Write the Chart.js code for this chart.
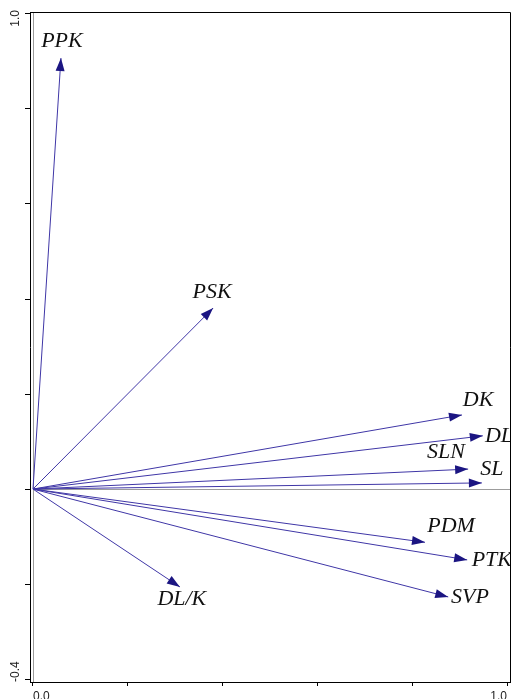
<!DOCTYPE html>
<html>
<head>
<meta charset="utf-8">
<script src="https://cdn.jsdelivr.net/npm/chart.js@4.4.0/dist/chart.umd.min.js"></script>
<style>
  html, body { margin: 0; padding: 0; background: #fff; }
  #wrap { width: 513px; height: 699px; }
</style>
</head>
<body>
<div id="wrap"><canvas id="biplot" width="513" height="699"></canvas></div>
<script>
// Variables and their loading vectors
const variables = ['PPK', 'PSK', 'DK', 'DL', 'SLN', 'SL', 'PDM', 'PTK', 'SVP', 'DL/K'];
const loadX = [0.059, 0.380, 0.905, 0.949, 0.918, 0.947, 0.827, 0.916, 0.876, 0.310];
const loadY = [0.907, 0.381, 0.156, 0.112, 0.042, 0.013, -0.112, -0.149, -0.227, -0.206];

// where each name is written (data units)
const labelX = [0.061, 0.378, 0.939, 0.983, 0.871, 0.968, 0.882, 0.968, 0.922, 0.314];
const labelY = [0.943, 0.415, 0.187, 0.112, 0.078, 0.042, -0.078, -0.149, -0.227, -0.232];

// tick labels that are printed
const xTickLabels = [0.0, 1.0];
const yTickLabels = [-0.4, 1.0];

const ARROW = '#1b1582';
const SHAFT = '#3f36a6';

// Build one dataset per arrow, from the origin to the loading
const datasets = variables.map((name, i) => ({
    label: name,
    data: [{ x: 0, y: 0 }, { x: loadX[i], y: loadY[i] }],
    showLine: true,
    borderColor: SHAFT,
    backgroundColor: ARROW,
    borderWidth: 1,
    pointRadius: 0,
    pointHoverRadius: 0
}));

function isShown(list, v) {
    return list.some(t => Math.abs(t - v) < 1e-6);
}

// Extra drawing: zero lines, arrow heads, names, frame, y tick labels
const biplotPlugin = {
    id: 'biplot',
    beforeDatasetsDraw(chart) {
        const { ctx, chartArea: a, scales: { x, y } } = chart;
        const x0 = Math.round(x.getPixelForValue(0)) + 0.5;
        const y0 = Math.round(y.getPixelForValue(0)) + 0.5;
        ctx.save();
        ctx.strokeStyle = '#9c9c9c';
        ctx.lineWidth = 1;
        ctx.beginPath();
        ctx.moveTo(x0, a.top);
        ctx.lineTo(x0, a.bottom);
        ctx.moveTo(x0, y0);
        ctx.lineTo(a.right, y0);
        ctx.stroke();
        ctx.restore();
    },
    afterDatasetsDraw(chart) {
        const { ctx, chartArea: a, scales: { x, y } } = chart;
        ctx.save();
        // arrow heads
        chart.data.datasets.forEach((ds, i) => {
            const pts = chart.getDatasetMeta(i).data;
            const p0 = pts[0], p1 = pts[1];
            const ang = Math.atan2(p1.y - p0.y, p1.x - p0.x);
            const len = 13, half = 4.5;
            const bx = p1.x - len * Math.cos(ang), by = p1.y - len * Math.sin(ang);
            ctx.fillStyle = ARROW;
            ctx.beginPath();
            ctx.moveTo(p1.x, p1.y);
            ctx.lineTo(bx + half * Math.sin(ang), by - half * Math.cos(ang));
            ctx.lineTo(bx - half * Math.sin(ang), by + half * Math.cos(ang));
            ctx.closePath();
            ctx.fill();
        });
        // variable names, clipped to the plot region
        ctx.beginPath();
        ctx.rect(a.left, a.top, a.right - a.left, a.bottom - a.top);
        ctx.clip();
        ctx.font = 'italic 22px "Liberation Serif", "DejaVu Serif", serif';
        ctx.fillStyle = '#111';
        ctx.textAlign = 'center';
        ctx.textBaseline = 'middle';
        variables.forEach((name, i) => {
            ctx.fillText(name, x.getPixelForValue(labelX[i]), y.getPixelForValue(labelY[i]));
        });
        ctx.restore();
    },
    afterDraw(chart) {
        const { ctx, chartArea: a, scales: { y } } = chart;
        ctx.save();
        // top and right edges of the frame
        ctx.strokeStyle = '#000';
        ctx.lineWidth = 1;
        ctx.beginPath();
        ctx.moveTo(a.left, Math.round(a.top) + 0.5);
        ctx.lineTo(Math.round(a.right) + 0.5, Math.round(a.top) + 0.5);
        ctx.lineTo(Math.round(a.right) + 0.5, a.bottom + 1);
        ctx.stroke();
        // rotated y tick labels, kept inside the frame
        ctx.font = '12px "Liberation Sans", Arial, sans-serif';
        ctx.fillStyle = '#222';
        ctx.textAlign = 'center';
        ctx.textBaseline = 'middle';
        y.ticks.forEach(t => {
            if (!isShown(yTickLabels, t.value)) return;
            const txt = t.value.toFixed(1);
            const w = ctx.measureText(txt).width;
            let py = y.getPixelForValue(t.value);
            py = Math.max(py, a.top - 2 + w / 2);
            py = Math.min(py, a.bottom - w / 2);
            ctx.save();
            ctx.translate(16, py);
            ctx.rotate(-Math.PI / 2);
            ctx.fillText(txt, 0, 0);
            ctx.restore();
        });
        ctx.restore();
    }
};

new Chart(document.getElementById('biplot'), {
    type: 'scatter',
    data: { datasets },
    plugins: [biplotPlugin],
    options: {
        responsive: false,
        animation: false,
        layout: { padding: { top: 12, right: 3, left: 0, bottom: 0 } },
        plugins: {
            legend: { display: false },
            tooltip: { enabled: false }
        },
        scales: {
            x: {
                type: 'linear',
                min: -0.0063,
                max: 1.0063,
                afterFit: s => { s.height = 17; },
                border: { color: '#000', width: 1 },
                grid: { drawOnChartArea: false, drawTicks: true, tickLength: 4, color: '#000' },
                ticks: {
                    stepSize: 0.2,
                    includeBounds: false,
                    autoSkip: false,
                    maxRotation: 0,
                    align: 'inner',
                    padding: 3,
                    color: '#222',
                    font: { family: '"Liberation Sans", Arial, sans-serif', size: 12 },
                    callback: v => isShown(xTickLabels, v) ? Number(v).toFixed(1) : ''
                }
            },
            y: {
                type: 'linear',
                min: -0.406,
                max: 1.004,
                afterFit: s => { s.width = 30; },
                border: { color: '#000', width: 1 },
                grid: { drawOnChartArea: false, drawTicks: true, tickLength: 5, color: '#000' },
                ticks: {
                    stepSize: 0.2,
                    includeBounds: false,
                    autoSkip: false,
                    display: false
                }
            }
        }
    }
});
</script>
</body>
</html>
